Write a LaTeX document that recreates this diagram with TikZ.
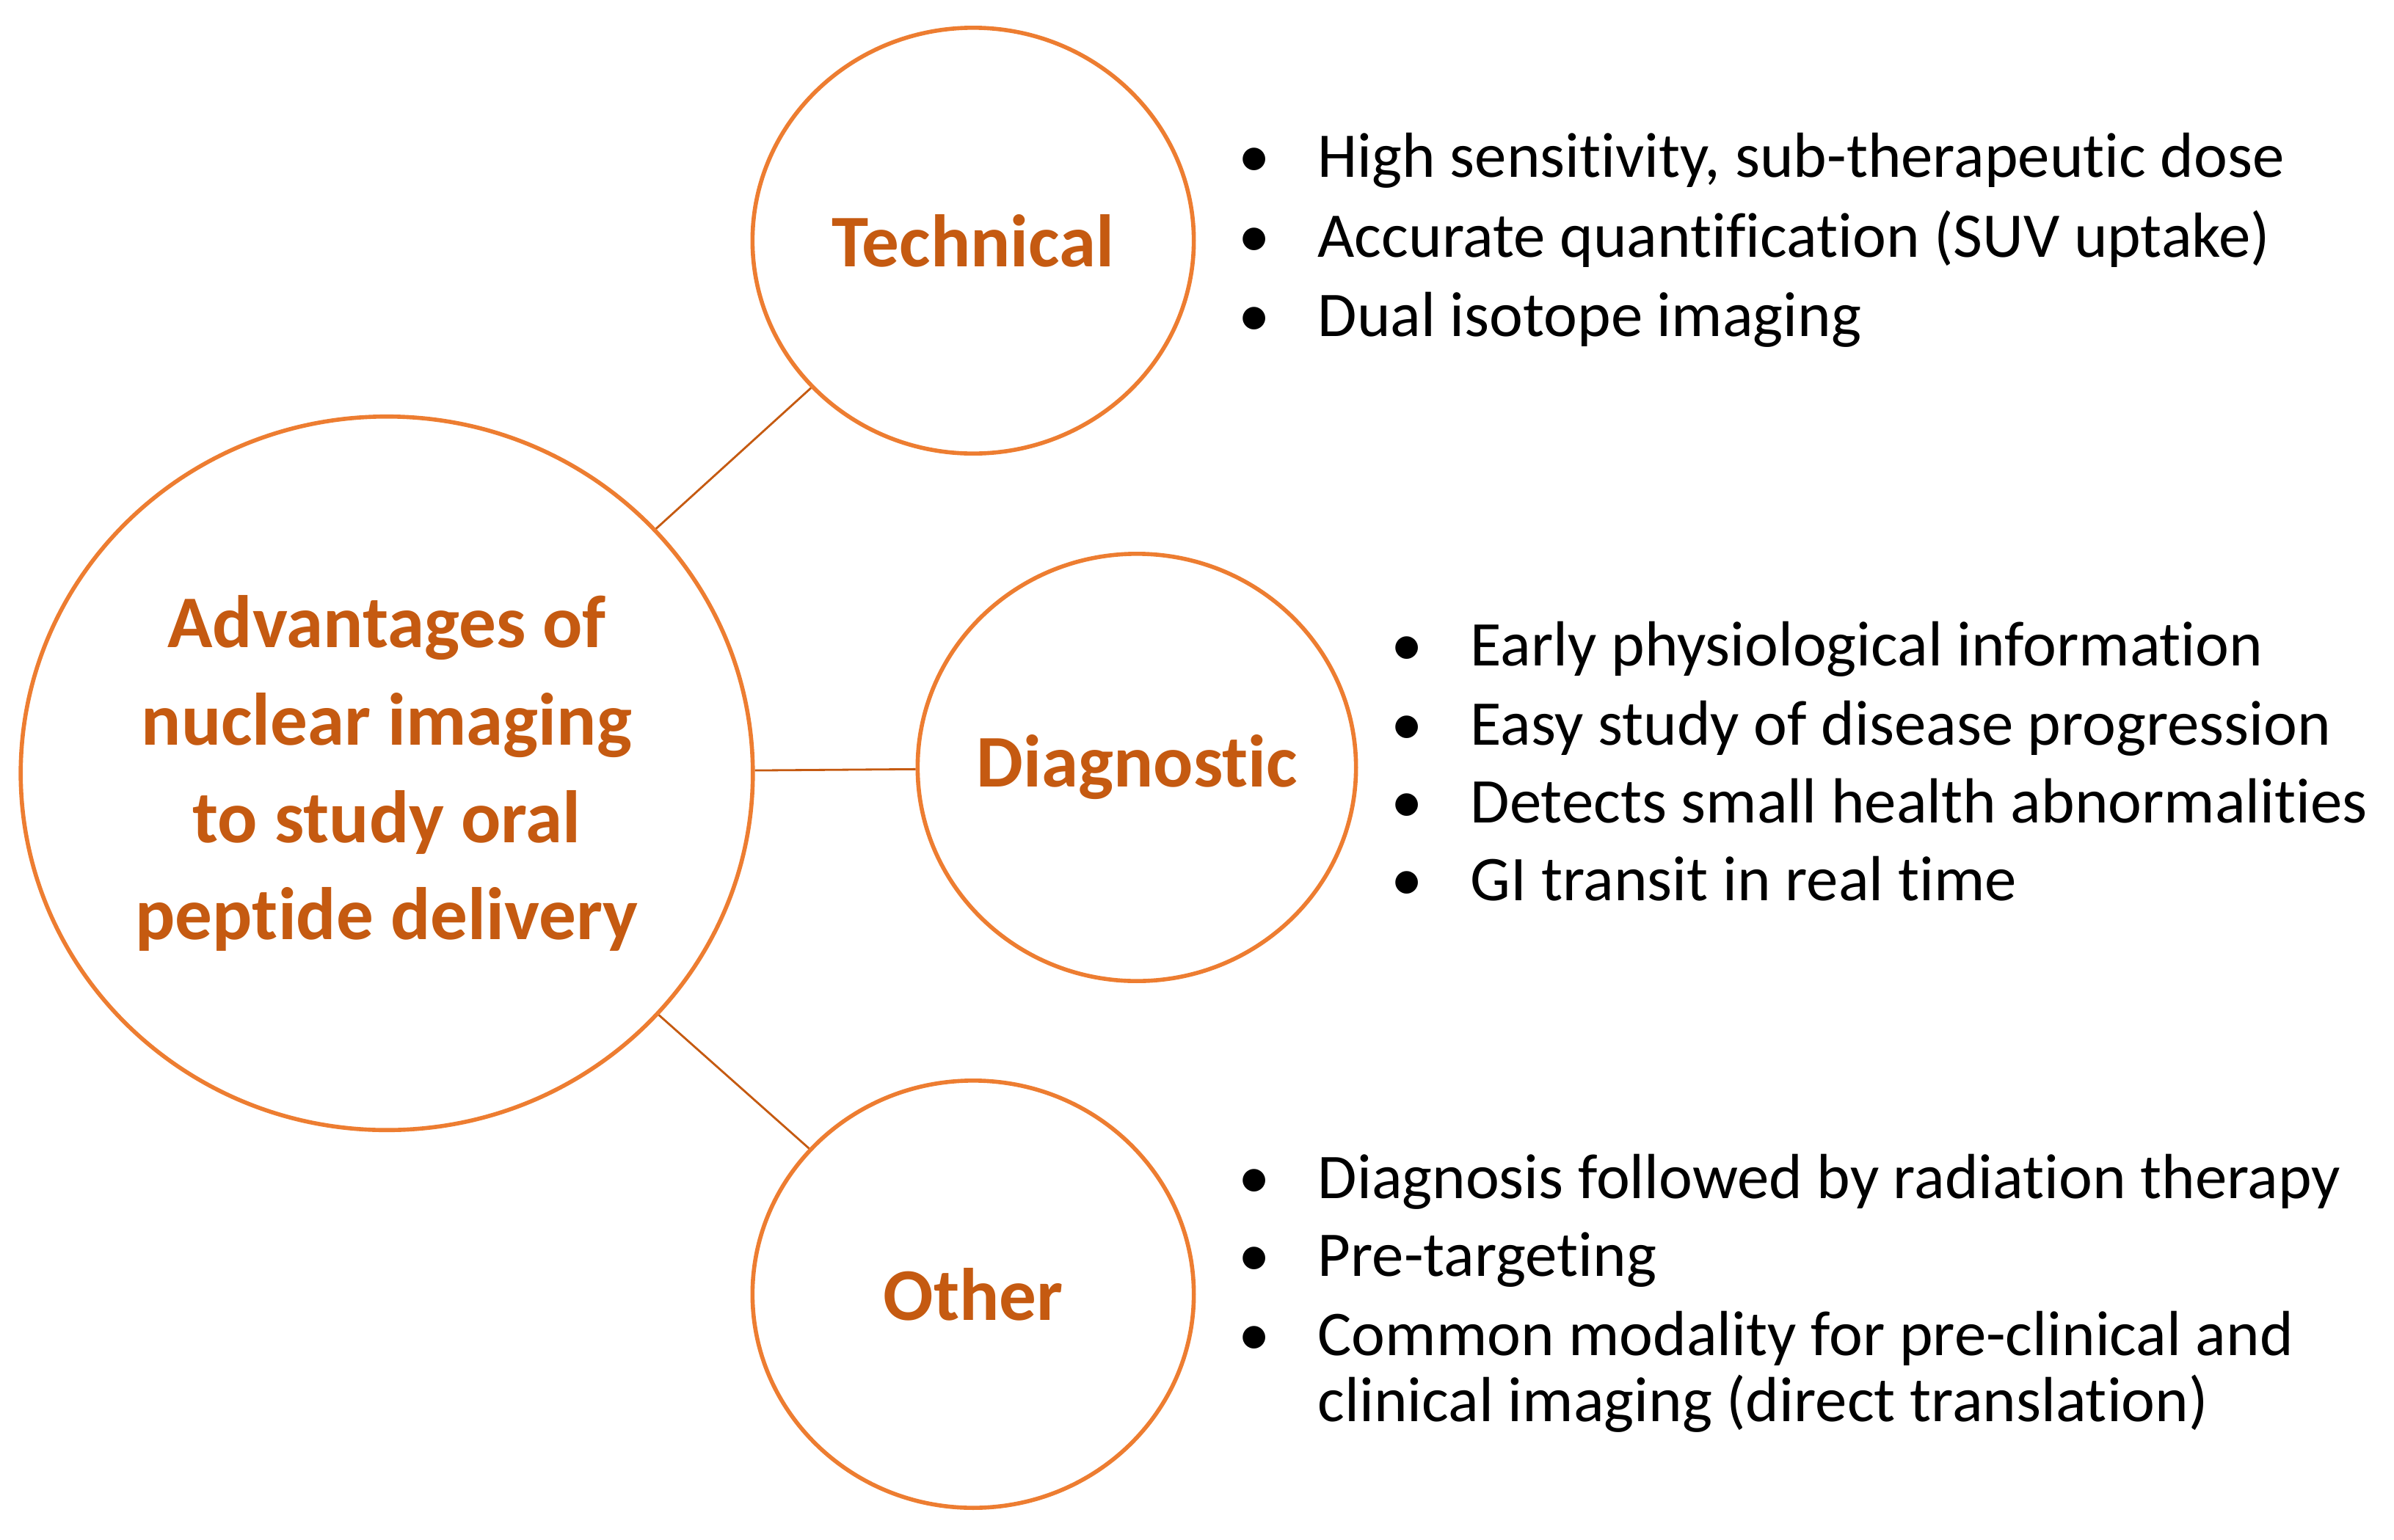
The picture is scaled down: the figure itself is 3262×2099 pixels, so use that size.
\documentclass[tikz,border=0pt]{standalone}
\usepackage{fontspec}
\setmainfont{Carlito}[Ligatures=NoCommon]
\usetikzlibrary{shapes.geometric}

\definecolor{ring}{RGB}{237,125,49}
\definecolor{rust}{RGB}{197,90,17}

\tikzset{
  hub/.style={draw=ring, line width=1.6pt, ellipse, inner xsep=-1cm, inner ysep=0pt, text=rust,
    font=\bfseries\fontsize{28.8}{37.8}\selectfont, align=center},
  link/.style={draw=rust, line width=0.8pt},
  point/.style={anchor=base west, inner sep=0pt, font=\fontsize{24.7}{27}\selectfont}
}
\newcommand{\dotitem}{\llap{\makebox[1.74cm][c]{\textbullet}}}

\begin{document}
\begin{tikzpicture}[x=0.01cm, y=-0.01cm]
        \useasboundingbox (0,0) rectangle (3262,2099);

        % circles
        \node[hub, minimum width=9.97cm, minimum height=9.72cm] at (527,1054) (m)
          {Advantages of\\nuclear imaging\\to study oral\\peptide delivery};
        \node[hub, minimum width=6.01cm, minimum height=5.8cm] at (1326,328) (t) {Technical};
        \node[hub, minimum width=5.97cm, minimum height=5.82cm] at (1549,1046) (d) {Diagnostic};
        \node[hub, minimum width=6.01cm, minimum height=5.82cm] at (1326,1764) (o) {Other};
        \draw[link] (m) -- (t);
        \draw[link] (m) -- (d);
        \draw[link] (m) -- (o);

        % technical
        \node[point] at (1795,241) (t1) {\dotitem High sensitivity, sub-therapeutic dose};
        \node[point] at (1795,350) (t2) {\dotitem Accurate quantification (SUV uptake)};
        \node[point] at (1795,458) (t3) {\dotitem Dual isotope imaging};

        % diagnostic
        \node[point] at (2003,907) (d1) {\dotitem Early physiological information};
        \node[point] at (2003,1015) (d2) {\dotitem Easy study of disease progression};
        \node[point] at (2003,1121) (d3) {\dotitem Detects small health abnormalities};
        \node[point] at (2003,1227) (d4) {\dotitem GI transit in real time};

        % other
        \node[point] at (1795,1633) (o1) {\dotitem Diagnosis followed by radiation therapy};
        \node[point] at (1795,1739) (o2) {\dotitem Pre-targeting};
        \node[point] at (1795,1847) (o3) {\dotitem Common modality for pre-clinical and};
        \node[point] at (1795,1937) (o4) {clinical imaging (direct translation)};
    \end{tikzpicture}
\end{document}
